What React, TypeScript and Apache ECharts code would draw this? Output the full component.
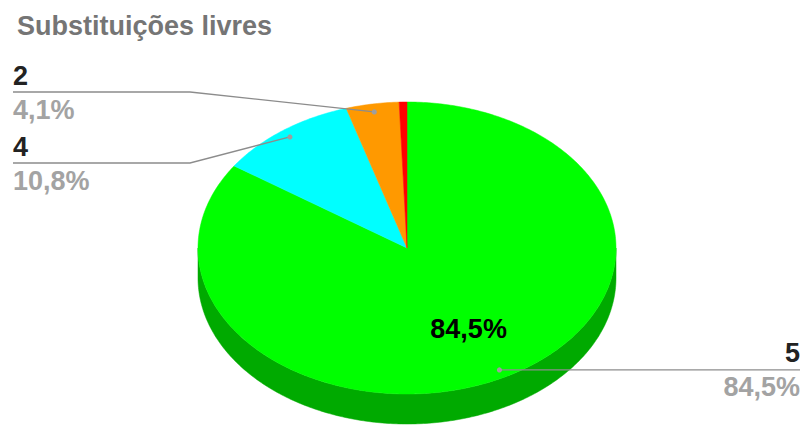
import React, { useEffect, useRef } from 'react';
import * as echarts from 'echarts';

// Rating categories and their share of answers (%)
const categories = ['5', '4', '2', '1'];
const values = [84.5, 10.8, 4.1, 0.6];
const topColors = ['#00ff00', '#00ffff', '#ff9900', '#ff0000'];
const sideColors = ['#00aa00', '#00aaaa', '#aa6600', '#aa0000'];
const titleText = 'Substituições livres';

// Pie geometry (tilted ellipse with a visible rim)
const CX = 407;
const CY = 248;
const RX = 209;
const RY = 146;
const DEPTH = 30;
const FONT = '"Liberation Sans", Arial, Helvetica, sans-serif';
const LEFT_ROWS = [92, 163];
const LEFT_X = 13;
const LEFT_KNEE = 190;
const RIGHT_X = 800;

const total = values.reduce((s, v) => s + v, 0);
const cumBefore: number[] = [];
values.reduce((acc, v, i) => {
  cumBefore[i] = acc;
  return acc + v;
}, 0);

const pt = (deg: number, k = 1, dy = 0): number[] => {
  const a = (deg * Math.PI) / 180;
  return [CX + RX * k * Math.sin(a), CY - RY * k * Math.cos(a) + dy];
};

const arcPoints = (a0: number, a1: number, dy = 0): number[][] => {
  const n = Math.max(2, Math.ceil(Math.abs(a1 - a0) / 0.75) + 1);
  const pts: number[][] = [];
  for (let i = 0; i < n; i++) pts.push(pt(a0 + ((a1 - a0) * i) / (n - 1), 1, dy));
  return pts;
};

const fmtPct = (v: number) => ((v / total) * 100).toFixed(1).replace('.', ',') + '%';

const angles = (v: number, c: number) => [(c / total) * 360, ((c + v) / total) * 360];

// Decide which slices get an outside label and on which row it sits
const ANCHOR_K = 0.945;
const labelRows: Record<number, number> = {};
(() => {
  const left: { i: number; y: number }[] = [];
  values.forEach((v, i) => {
    if ((v / total) * 100 < 1) return;
    const [a0, a1] = angles(v, cumBefore[i]);
    const mid = (a0 + a1) / 2;
    const p = pt(mid, ANCHOR_K);
    if (mid > 180) left.push({ i, y: p[1] });
    else labelRows[i] = p[1];
  });
  left.sort((a, b) => a.y - b.y);
  left.forEach((l, k) => {
    labelRows[l.i] = LEFT_ROWS[Math.min(k, LEFT_ROWS.length - 1)];
  });
})();

const seriesData = values.map((v, i) => ({ name: categories[i], value: [v, cumBefore[i]] }));

export default function App() {
  const ref = useRef<HTMLDivElement>(null);

  useEffect(() => {
    if (!ref.current) return;
    const chart = echarts.init(ref.current, undefined, { renderer: 'svg' });

    const sideItem = (params: any, api: any) => {
      const i = params.dataIndex;
      const [a0, a1] = angles(api.value(0), api.value(1));
      const s = Math.max(a0, 90);
      const e = Math.min(a1, 270);
      if (e <= s) return { type: 'group', children: [] };
      const top = arcPoints(s, e, 0);
      const bottom = arcPoints(s, e, DEPTH).reverse();
      return {
        type: 'polygon',
        shape: { points: top.concat(bottom) },
        style: { fill: sideColors[i], stroke: sideColors[i], lineWidth: 0.5 },
      };
    };

    const topItem = (params: any, api: any) => {
      const i = params.dataIndex;
      const [a0, a1] = angles(api.value(0), api.value(1));
      return {
        type: 'polygon',
        shape: { points: [[CX, CY]].concat(arcPoints(a0, a1)) },
        style: { fill: topColors[i], stroke: topColors[i], lineWidth: 0.5 },
      };
    };

    const labelItem = (params: any, api: any) => {
      const i = params.dataIndex;
      const v = api.value(0);
      const pct = (v / total) * 100;
      const [a0, a1] = angles(v, api.value(1));
      const mid = (a0 + a1) / 2;
      const children: any[] = [];
      if (pct > 20) {
        const p = pt(mid, 0.63);
        children.push({
          type: 'text',
          style: {
            text: fmtPct(v), x: p[0], y: p[1], align: 'center', verticalAlign: 'middle',
            fontFamily: FONT, fontSize: 27, fontWeight: 'bold', fill: '#000000',
          },
        });
      }
      if (labelRows[i] !== undefined) {
        const a = pt(mid, ANCHOR_K);
        const rowY = labelRows[i];
        const isLeft = mid > 180;
        const linePts = isLeft
          ? [[LEFT_X, rowY], [LEFT_KNEE, rowY], a]
          : [a, [RIGHT_X, rowY]];
        const tx = isLeft ? LEFT_X : RIGHT_X;
        const align = isLeft ? 'left' : 'right';
        children.push(
          {
            type: 'polyline',
            shape: { points: linePts },
            style: { stroke: '#8c8c8c', lineWidth: 1.3, fill: null },
          },
          { type: 'circle', shape: { cx: a[0], cy: a[1], r: 2.6 }, style: { fill: '#9e9e9e' } },
          {
            type: 'text',
            style: {
              text: categories[i], x: tx, y: rowY - 3, align, verticalAlign: 'bottom',
              fontFamily: FONT, fontSize: 27, fontWeight: 'bold', fill: '#222222',
            },
          },
          {
            type: 'text',
            style: {
              text: fmtPct(v), x: tx, y: rowY + 4, align, verticalAlign: 'top',
              fontFamily: FONT, fontSize: 27, fontWeight: 'bold', fill: '#a3a3a3',
            },
          }
        );
      }
      return { type: 'group', children };
    };

    chart.setOption({
      animation: false,
      backgroundColor: '#ffffff',
      title: {
        text: titleText,
        left: 12,
        top: 7,
        textStyle: { fontFamily: FONT, fontSize: 27, fontWeight: 'bold', color: '#757575' },
      },
      series: [
        { type: 'custom', coordinateSystem: 'none', z: 1, silent: true, renderItem: sideItem, data: seriesData },
        { type: 'custom', coordinateSystem: 'none', z: 2, silent: true, renderItem: topItem, data: seriesData },
        { type: 'custom', coordinateSystem: 'none', z: 3, silent: true, renderItem: labelItem, data: seriesData },
      ],
    });

    return () => chart.dispose();
  }, []);

  return (
    <div
      ref={ref}
      style={{ position: 'fixed', left: 0, top: 0, width: 804, height: 425, background: '#fff' }}
    />
  );
}
